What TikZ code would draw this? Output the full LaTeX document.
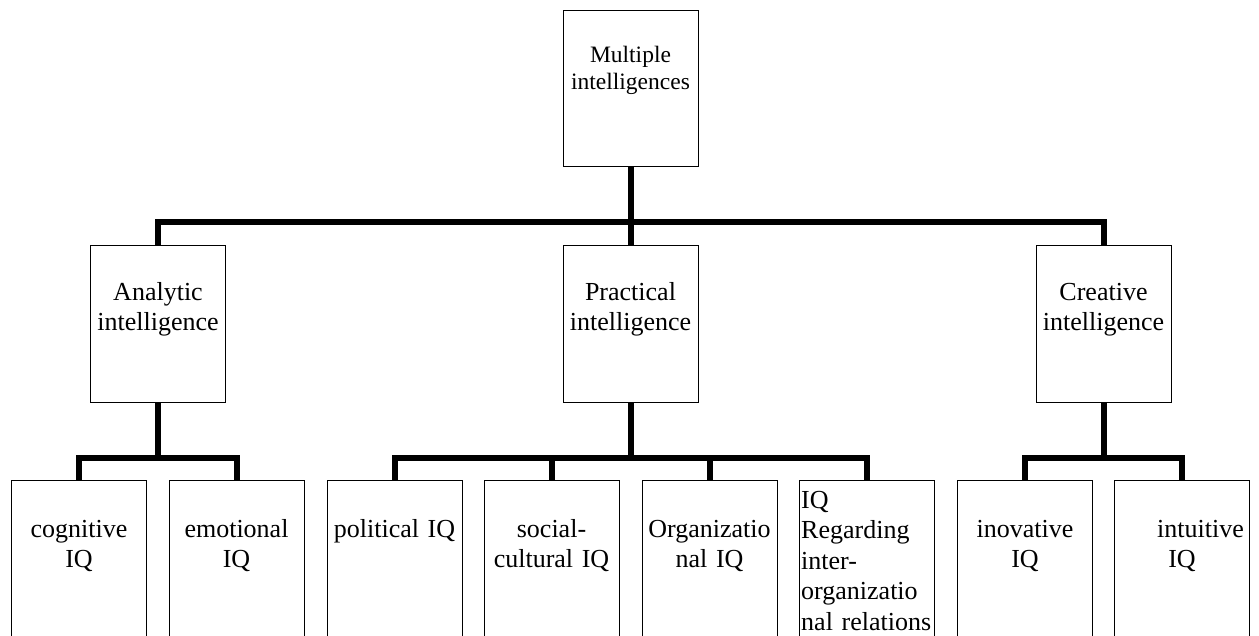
\documentclass[tikz,border=0pt]{standalone}
\usepackage{fontspec}
\setmainfont{Liberation Serif}
\begin{document}
\begin{tikzpicture}[x=1pt, y=-1pt, line join=miter,
		box/.style={draw, line width=1pt, minimum width=135pt, inner sep=0pt, outer sep=0pt, anchor=north},
		toplbl/.style={anchor=base, text width=132pt, align=center, inner sep=0pt, font=\fontsize{23.5}{27}\selectfont},
		lbl/.style={anchor=base, text width=134pt, align=center, inner sep=0pt, font=\fontsize{26}{30.5}\selectfont},
		conn/.style={line width=6pt}]
	\def\picw{1259} \def\pich{635}
	\useasboundingbox (0,0) rectangle (\picw,\pich);
	\clip (0,0) rectangle (\picw,\pich);
	% boxes
	\node[box, minimum height=156pt] (mi) at (630.5,10) {};
	\node[box, minimum height=157pt] (ana) at (158,245) {};
	\node[box, minimum height=157pt] (pra) at (630.5,245) {};
	\node[box, minimum height=157pt] (cre) at (1103.5,245) {};
	\node[box, minimum height=200pt] (cog) at (79,480) {};
	\node[box, minimum height=200pt] (emo) at (236.5,480) {};
	\node[box, minimum height=200pt] (pol) at (394.5,480) {};
	\node[box, minimum height=200pt] (soc) at (551.5,480) {};
	\node[box, minimum height=200pt] (org) at (709.5,480) {};
	\node[box, minimum height=200pt] (rel) at (867,480) {};
	\node[box, minimum height=200pt] (ino) at (1025,480) {};
	\node[box, minimum height=200pt] (int) at (1182,480) {};
	% labels
	\node[toplbl] (milbl) at (630.5,62) {Multiple\\intelligences};
	\node[lbl] (analbl) at (158,300) {Analytic\\intelligence};
	\node[lbl] (pralbl) at (630.5,300) {Practical\\intelligence};
	\node[lbl] (crelbl) at (1103.5,300) {Creative\\intelligence};
	\node[lbl] (coglbl) at (79,537) {cognitive\\IQ};
	\node[lbl] (emolbl) at (236.5,537) {emotional\\IQ};
	\node[lbl] (pollbl) at (394.5,537) {political IQ};
	\node[lbl] (soclbl) at (551.5,537) {social-\\cultural IQ};
	\node[lbl] (orglbl) at (709.5,537) {Organizatio\\nal IQ};
	\node[lbl, align=left, anchor=base west] (rellbl) at (801,508) {IQ\\Regarding\\inter-\\organizatio\\nal relations};
	\node[lbl] (inolbl) at (1025,537) {inovative\\IQ};
	\node[lbl] (intlbl) at (1182,537) {\hspace*{37pt}intuitive\\IQ};
	% connectors
	\coordinate (busT) at (630.5,221.5);
	\coordinate (busA) at (158,457.5);
	\coordinate (busP) at (630.5,457.5);
	\coordinate (busC) at (1103.5,457.5);
	\draw[conn] (mi.south) -- (busT);
	\draw[conn] (ana.north) |- (busT) -| (cre.north);
	\draw[conn] (busT) -- (pra.north);
	\draw[conn] (ana.south) -- (busA);
	\draw[conn] (cog.north) |- (busA) -| (emo.north);
	\draw[conn] (pra.south) -- (busP);
	\draw[conn] (pol.north) |- (busP) -| (rel.north);
	\draw[conn] (soc.north) -- (soc.north |- busP);
	\draw[conn] (org.north) -- (org.north |- busP);
	\draw[conn] (cre.south) -- (busC);
	\draw[conn] (ino.north) |- (busC) -| (int.north);
\end{tikzpicture}
\end{document}
